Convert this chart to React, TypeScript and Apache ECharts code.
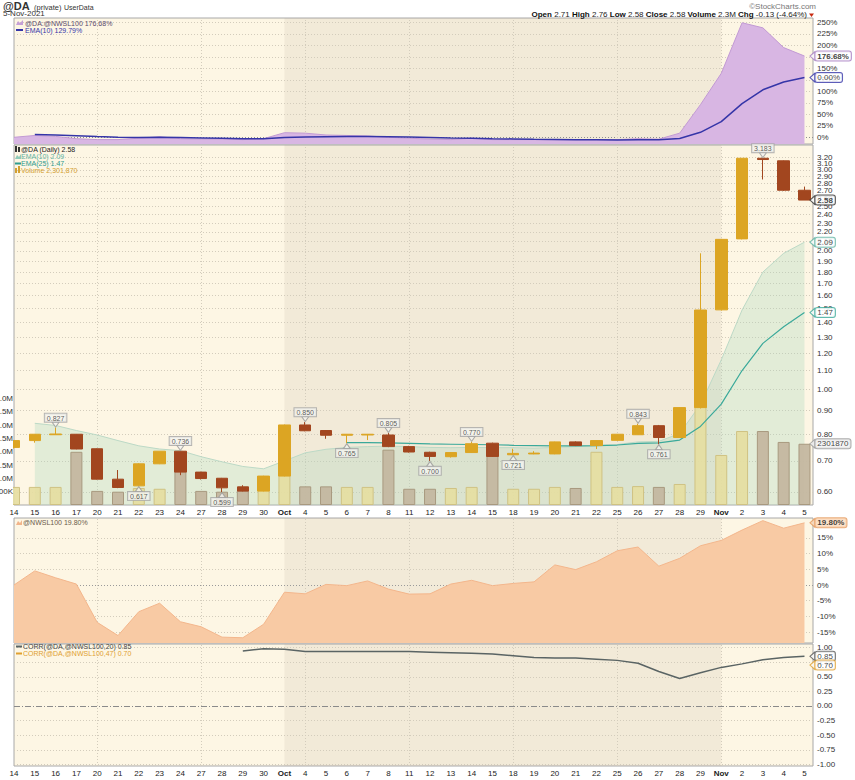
import React, { useEffect, useRef } from "react";
import * as echarts from "echarts";

// ---------- data ----------
const dayLabels = ["14","15","16","17","20","21","22","23","24","27","28","29","30","Oct","4","5","6","7","8","11","12","13","14","15","18","19","20","21","22","25","26","27","28","29","Nov","2","3","4","5"];

const opens  = [0.749,0.775,0.798,0.800,0.744,0.639,0.618,0.690,0.735,0.662,0.642,0.615,0.602,0.649,0.838,0.815,0.796,0.797,0.797,0.752,0.731,0.715,0.730,0.765,0.722,0.725,0.725,0.770,0.756,0.776,0.798,0.835,0.787,0.914,1.490,2.125,3.180,3.140,2.710];
const closes = [0.775,0.800,0.801,0.743,0.639,0.613,0.690,0.735,0.662,0.641,0.612,0.602,0.649,0.838,0.814,0.796,0.800,0.800,0.752,0.732,0.716,0.730,0.763,0.716,0.727,0.728,0.770,0.756,0.775,0.800,0.835,0.787,0.914,1.489,2.120,3.180,3.160,2.710,2.580];
const lows   = [0.745,0.767,0.797,0.742,0.638,0.611,0.617,0.689,0.652,0.638,0.599,0.601,0.601,0.648,0.812,0.782,0.765,0.777,0.750,0.730,0.700,0.712,0.729,0.714,0.721,0.724,0.724,0.754,0.743,0.775,0.797,0.761,0.786,0.910,1.485,2.120,2.860,2.700,2.580];
const highs  = [0.777,0.801,0.827,0.801,0.745,0.669,0.692,0.735,0.736,0.663,0.643,0.620,0.650,0.840,0.850,0.816,0.801,0.801,0.805,0.755,0.733,0.731,0.770,0.767,0.744,0.735,0.771,0.772,0.776,0.801,0.843,0.838,0.915,1.977,2.125,3.182,3.183,3.145,2.760];
const volumes = [680000,680000,680000,2000000,530000,500000,640000,610000,1500000,530000,500000,550000,600000,1500000,700000,700000,680000,680000,2080000,610000,610000,640000,680000,2000000,610000,610000,680000,640000,2000000,680000,710000,680000,790000,5000000,1880000,2780000,2780000,2370000,2301870];

const ema10Start = 1;
const ema10 = [0.845,0.836,0.815,0.797,0.775,0.755,0.743,0.737,0.715,0.697,0.681,0.673,0.700,0.729,0.742,0.749,0.752,0.754,0.752,0.749,0.748,0.749,0.748,0.748,0.746,0.749,0.752,0.755,0.760,0.770,0.772,0.803,0.928,1.16,1.489,1.80,1.977,2.09];
const ema25Start = 16;
const ema25 = [0.767,0.767,0.766,0.764,0.762,0.761,0.760,0.759,0.757,0.756,0.755,0.755,0.756,0.758,0.764,0.766,0.777,0.832,0.93,1.10,1.26,1.37,1.47];

const ratioPct = [0,4,2,-3,-5,-5,-2,1,-3,-4,-4,-5,-3,10,9,5,4,3,0,-2,-4,-5,-2,-5,-5,-5,-5,-5,-5,-5,-3,-4,9,71,139,249,238,195,176.68];
const ratioEmaStart = 1;
const ratioEma = [6,5.1,3.4,1.6,0.3,-0.3,-0.1,-0.7,-1.4,-2.1,-2.9,-3.2,-0.7,0.9,1.2,1.6,1.7,1.0,0.4,-0.6,-1.6,-1.9,-2.9,-3.6,-4.2,-4.6,-5.1,-5.4,-5.7,-5.3,-5.1,-2.6,10.8,34.2,73.3,103.3,120.2,129.79];

const nwslPct = [0,4.5,2.3,0.3,-11.9,-16.1,-8.5,-5.8,-11.7,-13.3,-16.6,-16.8,-12.5,-2.3,-2.8,0.2,-0.2,1.3,-1.3,-2.9,-2.8,0.3,1.5,-0.2,0.5,1.0,6.4,4.9,7.4,10.9,12.1,6.0,8.5,12.5,14.2,17.5,20.5,18.1,19.8];

const corrStart = 11;
const corr20 = [0.94,0.98,0.97,0.93,0.93,0.93,0.93,0.93,0.93,0.92,0.91,0.90,0.89,0.86,0.83,0.82,0.82,0.80,0.78,0.73,0.59,0.47,0.57,0.66,0.72,0.79,0.83,0.85];
const corr47Last = 0.70;

const swingHighIdx = [2,8,14,18,22,30,36];
const swingLowIdx = [6,10,16,20,24,31];

const pctTicks = [0,25,50,75,100,125,150,175,200,225,250];
const priceTicks = [0.6,0.7,0.8,0.9,1.0,1.1,1.2,1.3,1.4,1.5,1.6,1.7,1.8,1.9,2.0,2.1,2.2,2.3,2.4,2.5,2.6,2.7,2.8,2.9,3.0,3.1,3.2];
const volTicks = [500000,1000000,1500000,2000000,2500000,3000000,3500000,4000000];
const nwslTicks = [-15,-10,-5,0,5,10,15];
const corrTicks = [-1,-0.75,-0.5,-0.25,0,0.25,0.5,0.75,1];
const mondayIdx = [4,9,14,19,24,29,34];
const octBand = [13,34];

// ---------- styling ----------
const FONT = '"Liberation Sans", Arial, Helvetica, sans-serif';
const BAND = "rgba(165,150,130,0.12)";
const GRID_BG = "#fdf6e4";
const GRIDLINE = { color: "#d3ccbc", type: [1, 2], width: 1 };
const X_MAX = 38.41;
const UP = "#dca523";
const DOWN = "#a2461f";
const AX_FS = 8;

function xAxisDef(gridIndex: number, showLabels: boolean) {
  return {
    type: "value",
    gridIndex,
    min: 0,
    max: X_MAX,
    axisLine: { show: false },
    axisTick: { show: false },
    splitLine: { show: false },
    axisLabel: showLabels
      ? {
          show: true,
          customValues: dayLabels.map((_, i) => i),
          margin: 3,
          fontSize: AX_FS,
          color: "#222",
          fontFamily: FONT,
          formatter: (v: number) => {
            const s = dayLabels[Math.round(v)];
            return s === "Oct" || s === "Nov" ? `{b|${s}}` : s;
          },
          rich: { b: { fontWeight: "bold", fontSize: AX_FS, color: "#222", fontFamily: FONT } },
        }
      : { show: false },
  };
}

function yValueAxis(gridIndex: number, min: number, max: number, ticks: number[] | null, fmt: (v: number) => string, position = "right", margin = 4, z = 0) {
  return {
    type: "value",
    gridIndex,
    position,
    min,
    max,
    z,
    axisLine: { show: false },
    axisTick: { show: false },
    splitLine: { show: false },
    axisLabel: ticks
      ? { show: true, customValues: ticks, formatter: fmt, fontSize: AX_FS, color: "#333", margin, fontFamily: FONT }
      : { show: false },
  };
}

function helper(xi: number, yi: number, hLines: any[]) {
  return {
    type: "line",
    xAxisIndex: xi,
    yAxisIndex: yi,
    data: [],
    silent: true,
    z: 1,
    markArea: {
      silent: true,
      z: 1,
      itemStyle: { color: BAND },
      data: [[{ xAxis: octBand[0] }, { xAxis: octBand[1] }]],
    },
    markLine: {
      silent: true,
      z: 1,
      symbol: ["none", "none"],
      animation: false,
      label: { show: false },
      lineStyle: GRIDLINE,
      data: [...hLines, ...mondayIdx.map((i) => ({ xAxis: i }))],
    },
  };
}

function tag(xi: number, yi: number, value: number, text: string, border: string, bg: string, bold: boolean) {
  return {
    type: "scatter",
    xAxisIndex: xi,
    yAxisIndex: yi,
    z: 12,
    silent: true,
    data: [[dayLabels.length - 1, value]],
    symbol: "path://M0,5 L6,0 L6,10 Z",
    symbolSize: [5, 9],
    symbolOffset: [8, 0],
    itemStyle: { color: bg, borderColor: border, borderWidth: 1 },
    label: {
      show: true,
      position: "right",
      distance: 0,
      formatter: text,
      fontSize: 8,
      fontWeight: bold ? "bold" : "normal",
      color: "#111",
      backgroundColor: bg,
      borderColor: border,
      borderWidth: 1,
      borderRadius: 2,
      padding: [1, 2, 0, 2],
      fontFamily: FONT,
    },
  };
}

const SW_LABEL = {
  show: true,
  fontSize: 7,
  color: "#333",
  backgroundColor: "#f4f4ef",
  borderColor: "#a5a5a5",
  borderWidth: 1,
  padding: [1, 2, 0, 2],
  fontFamily: FONT,
};

function txt(x: number, y: number, text: string, fill: string, size = 7, weight = "normal", align = "left") {
  return {
    type: "text",
    x,
    y,
    silent: true,
    z: 30,
    style: { text, fill, font: `${weight} ${size}px ${FONT}`, align, verticalAlign: "top" },
  };
}

function buildOption() {
  const last = dayLabels.length - 1;
  const volFmt = (v: number) => (v < 1000000 ? `${Math.round(v / 1000)}K` : `${(v / 1000000).toFixed(1)}M`);

  const upVol = { color: "rgba(230,222,160,0.9)", borderColor: "#cfc283", borderWidth: 1 };
  const downVol = { color: "rgba(196,183,160,0.95)", borderColor: "#a8997f", borderWidth: 1 };

  const graphicEls: any[] = [
    // cover anything that spills left of the price panel (the reference clips it)
    { type: "rect", silent: true, z: 10, shape: { x: 0, y: 145, width: 13, height: 361 }, style: { fill: "#ffffff" } },
    txt(3, 0, "@DA", "#333", 11, "bold"),
    txt(34, 3, "(private)", "#333", 7.5),
    txt(64, 3.5, "UserData", "#333", 7),
    txt(3, 9.5, "5-Nov-2021", "#333", 8),
    txt(816, 2, "\u00a9StockCharts.com", "#777", 8, "normal", "right"),
    {
      type: "text",
      x: 807,
      y: 10.5,
      silent: true,
      z: 30,
      style: {
        text: "{b|Open} 2.71 {b|High} 2.76 {b|Low} 2.58 {b|Close} 2.58 {b|Volume} 2.3M {b|Chg} -0.13 (-4.64%)",
        fill: "#222",
        font: `normal 8px ${FONT}`,
        align: "right",
        verticalAlign: "top",
        rich: { b: { font: `bold 8px ${FONT}`, fill: "#111" } },
      },
    },
    { type: "polygon", silent: true, z: 30, shape: { points: [[809, 13.5], [814, 13.5], [811.5, 17]] }, style: { fill: "#c82a10" } },
    // panel 1 legend
    { type: "polygon", silent: true, z: 30, shape: { points: [[16, 25], [18, 21], [20, 23], [23, 20], [23, 25]] }, style: { fill: "#c6a0d6" } },
    txt(25, 19.5, `@DA:@NWSL100 ${ratioPct[last].toFixed(2)}%`, "#5b4b6b"),
    { type: "line", silent: true, z: 30, shape: { x1: 16, y1: 30, x2: 23, y2: 30 }, style: { stroke: "#3535a8", lineWidth: 2 } },
    txt(25, 26.5, `EMA(10) ${ratioEma[ratioEma.length - 1].toFixed(2)}%`, "#3535a8"),
    // panel 2 legend
    { type: "rect", silent: true, z: 30, shape: { x: 15, y: 146, width: 2, height: 6 }, style: { fill: "#333" } },
    { type: "rect", silent: true, z: 30, shape: { x: 18, y: 147, width: 2, height: 5 }, style: { fill: "#333" } },
    txt(21, 145.5, `@DA (Daily) ${closes[last].toFixed(2)}`, "#222"),
    { type: "polygon", silent: true, z: 30, shape: { points: [[15, 159], [17, 155], [19, 157], [21, 154], [21, 159]] }, style: { fill: "#8fcab9" } },
    txt(21, 152.5, `EMA(10) ${ema10[ema10.length - 1].toFixed(2)}`, "#5fb3a3"),
    { type: "line", silent: true, z: 30, shape: { x1: 15, y1: 163.5, x2: 21, y2: 163.5 }, style: { stroke: "#2f9d90", lineWidth: 2 } },
    txt(21, 159.5, `EMA(25) ${ema25[ema25.length - 1].toFixed(2)}`, "#2f9d90"),
    { type: "rect", silent: true, z: 30, shape: { x: 15, y: 168, width: 2, height: 5 }, style: { fill: "#d4a030" } },
    { type: "rect", silent: true, z: 30, shape: { x: 18, y: 166, width: 2, height: 7 }, style: { fill: "#d4a030" } },
    txt(21, 166.5, `Volume ${volumes[last].toLocaleString("en-US")}`, "#d4a030"),
    // panel 3 legend
    { type: "polygon", silent: true, z: 30, shape: { points: [[16, 525], [18, 521], [20, 523], [22, 520], [22, 525]] }, style: { fill: "#f2b48a" } },
    txt(23, 519, `@NWSL100 ${nwslPct[last].toFixed(2)}%`, "#6a5a4a"),
    // panel 4 legend
    { type: "line", silent: true, z: 30, shape: { x1: 16, y1: 646.5, x2: 22, y2: 646.5 }, style: { stroke: "#5a6464", lineWidth: 2 } },
    txt(23, 643, `CORR(@DA,@NWSL100,20) ${corr20[corr20.length - 1].toFixed(2)}`, "#444"),
    { type: "line", silent: true, z: 30, shape: { x1: 16, y1: 653.5, x2: 22, y2: 653.5 }, style: { stroke: "#e0a030", lineWidth: 2 } },
    txt(23, 650, `CORR(@DA,@NWSL100,47) ${corr47Last.toFixed(2)}`, "#e0a030"),
  ];

  const gridBase = {
    left: 14,
    right: 42,
    show: true,
    backgroundColor: GRID_BG,
    borderColor: "#a8a8a8",
    borderWidth: 1,
    containLabel: false,
    outerBoundsMode: "none",
  };

  return {
    animation: false,
    textStyle: { fontFamily: FONT },
    grid: [
      { ...gridBase, top: 18, height: 126 },
      { ...gridBase, top: 145, height: 360 },
      { ...gridBase, top: 518, height: 125 },
      { ...gridBase, top: 644, height: 122 },
    ],
    xAxis: [xAxisDef(0, false), xAxisDef(1, true), xAxisDef(2, false), xAxisDef(3, true)],
    yAxis: [
      yValueAxis(0, -14.57, 259.35, pctTicks, (v) => `${v}%`),
      {
        type: "log",
        gridIndex: 1,
        position: "right",
        logBase: 10,
        min: 0.5616,
        max: 3.398,
        axisLine: { show: false },
        axisTick: { show: false },
        splitLine: { show: false },
        axisLabel: { show: false },
      },
      yValueAxis(1, 0, 13530000, volTicks, volFmt, "left", 1, 20),
      yValueAxis(2, -18.47, 21.34, nwslTicks, (v) => `${v}%`),
      yValueAxis(3, -1.026, 1.06, corrTicks, (v) => v.toFixed(2)),
    ],
    graphic: { elements: graphicEls },
    series: [
      // ----- panel 1 -----
      helper(0, 0, [
        ...pctTicks.filter((v) => v !== 0).map((v) => ({ yAxis: v })),
        { yAxis: 0, lineStyle: { color: "#8f8f8f", type: [1, 2], width: 1 } },
      ]),
      {
        type: "line",
        xAxisIndex: 0,
        yAxisIndex: 0,
        z: 2,
        silent: true,
        symbol: "none",
        data: ratioPct.map((v, i) => [i, v]),
        lineStyle: { color: "#c29ad4", width: 1 },
        areaStyle: { color: "#d8b6e3", opacity: 1, origin: "start" },
      },
      {
        type: "line",
        xAxisIndex: 0,
        yAxisIndex: 0,
        z: 3,
        silent: true,
        symbol: "none",
        data: ratioEma.map((v, k) => [k + ratioEmaStart, v]),
        lineStyle: { color: "#3535a8", width: 1.5 },
      },
      tag(0, 0, ratioPct[last], `${ratioPct[last].toFixed(2)}%`, "#a57cc0", "#ffffff", true),
      tag(0, 0, ratioEma[ratioEma.length - 1], "0.00%", "#3535a8", "#ffffff", false),

      // ----- panel 2 -----
      helper(1, 1, priceTicks.map((v) => ({
        yAxis: v,
        label: { show: true, position: "end", formatter: v.toFixed(2), fontSize: AX_FS, color: "#333", distance: 4, fontFamily: FONT },
      }))),
      {
        type: "line",
        xAxisIndex: 1,
        yAxisIndex: 1,
        z: 2,
        silent: true,
        symbol: "none",
        data: ema10.map((v, k) => [k + ema10Start, v]),
        lineStyle: { color: "#bcd9c6", width: 1 },
        areaStyle: { color: "rgba(170,214,188,0.45)", origin: "start" },
      },
      {
        type: "bar",
        xAxisIndex: 1,
        yAxisIndex: 2,
        z: 3,
        silent: true,
        clip: true,
        barWidth: 12,
        data: volumes.map((v, i) => ({ value: [i, v], itemStyle: closes[i] >= opens[i] ? upVol : downVol })),
      },
      {
        type: "line",
        xAxisIndex: 1,
        yAxisIndex: 1,
        z: 4,
        silent: true,
        symbol: "none",
        data: ema25.map((v, k) => [k + ema25Start, v]),
        lineStyle: { color: "#3aa99a", width: 1.2 },
      },
      {
        type: "candlestick",
        xAxisIndex: 1,
        yAxisIndex: 1,
        z: 5,
        silent: true,
        barWidth: 12,
        data: dayLabels.map((_, i) => [i, opens[i], closes[i], lows[i], highs[i]]),
        itemStyle: { color: UP, color0: DOWN, borderColor: UP, borderColor0: DOWN, borderWidth: 1 },
      },
      {
        type: "scatter",
        xAxisIndex: 1,
        yAxisIndex: 1,
        z: 8,
        silent: true,
        data: swingHighIdx.map((i) => [i, highs[i]]),
        symbol: "path://M0,0 L10,0 L5,7 Z",
        symbolSize: [7, 5],
        symbolOffset: [0, -3],
        itemStyle: { color: "#f4f4ef", borderColor: "#999", borderWidth: 1 },
        label: { ...SW_LABEL, position: "top", distance: 0, formatter: (p: any) => p.value[1].toFixed(3) },
      },
      {
        type: "scatter",
        xAxisIndex: 1,
        yAxisIndex: 1,
        z: 8,
        silent: true,
        data: swingLowIdx.map((i) => [i, lows[i]]),
        symbol: "path://M5,0 L10,7 L0,7 Z",
        symbolSize: [7, 5],
        symbolOffset: [0, 3],
        itemStyle: { color: "#f4f4ef", borderColor: "#999", borderWidth: 1 },
        label: { ...SW_LABEL, position: "bottom", distance: 0, formatter: (p: any) => p.value[1].toFixed(3) },
      },
      tag(1, 1, closes[last], closes[last].toFixed(2), "#333", "#ffffff", true),
      tag(1, 1, ema10[ema10.length - 1], ema10[ema10.length - 1].toFixed(2), "#5fb3a3", "#ffffff", false),
      tag(1, 1, ema25[ema25.length - 1], ema25[ema25.length - 1].toFixed(2), "#3aa99a", "#ffffff", false),
      tag(1, 2, volumes[last], String(volumes[last]), "#999", "#f0f0f0", false),

      // ----- panel 3 -----
      helper(2, 3, [
        ...nwslTicks.filter((v) => v !== 0).map((v) => ({ yAxis: v })),
        { yAxis: 0, lineStyle: { color: "#9a9a9a", type: [1, 2], width: 1 } },
      ]),
      {
        type: "line",
        xAxisIndex: 2,
        yAxisIndex: 3,
        z: 2,
        silent: true,
        symbol: "none",
        data: nwslPct.map((v, i) => [i, v]),
        lineStyle: { color: "#f3b68c", width: 1 },
        areaStyle: { color: "#f8caa4", opacity: 1, origin: "start" },
      },
      tag(2, 3, nwslPct[last], `${nwslPct[last].toFixed(2)}%`, "#e59a5c", "#fbd9bc", true),

      // ----- panel 4 -----
      helper(3, 4, [
        ...corrTicks.filter((v) => v !== 0).map((v) => ({ yAxis: v })),
        { yAxis: 0, lineStyle: { color: "#8a8a8a", type: [6, 2, 1, 2], width: 1 } },
      ]),
      {
        type: "line",
        xAxisIndex: 3,
        yAxisIndex: 4,
        z: 3,
        silent: true,
        symbol: "none",
        data: corr20.map((v, k) => [k + corrStart, v]),
        lineStyle: { color: "#5a6464", width: 1.5 },
      },
      tag(3, 4, corr20[corr20.length - 1], corr20[corr20.length - 1].toFixed(2), "#555", "#ffffff", false),
      tag(3, 4, corr47Last, corr47Last.toFixed(2), "#e0a030", "#ffffff", false),
    ],
  };
}

export default function App() {
  const ref = useRef<HTMLDivElement>(null);
  useEffect(() => {
    if (!ref.current) return;
    const chart = echarts.init(ref.current, undefined, { renderer: "svg" });
    chart.setOption(buildOption() as any);
    return () => chart.dispose();
  }, []);
  return (
    <div
      ref={ref}
      style={{ position: "fixed", left: 0, top: 0, width: 855, height: 780, background: "#ffffff" }}
    />
  );
}
